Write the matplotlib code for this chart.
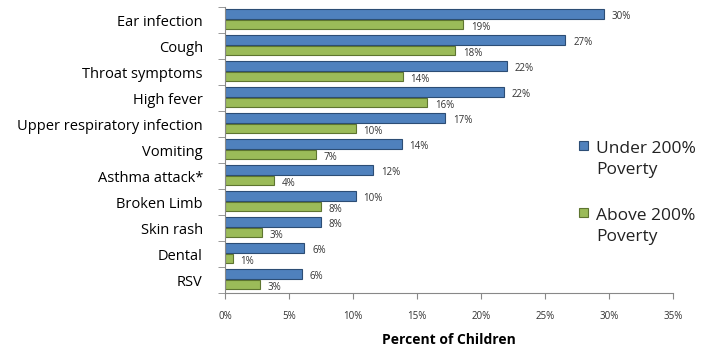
import matplotlib
matplotlib.use("Agg")
import matplotlib.pyplot as plt
import numpy as np
from matplotlib.patches import Rectangle

categories = ["Ear infection", "Cough", "Throat symptoms", "High fever",
              "Upper respiratory infection", "Vomiting", "Asthma attack*",
              "Broken Limb", "Skin rash", "Dental", "RSV"]
under_200 = [29.6, 26.6, 22.0, 21.8, 17.2, 13.8, 11.6, 10.2, 7.5, 6.2, 6.0]
above_200 = [18.6, 18.0, 13.9, 15.8, 10.2, 7.1, 3.8, 7.5, 2.9, 0.6, 2.7]
xticks = [0, 5, 10, 15, 20, 25, 30, 35]
series_labels = ["Under 200%\nPoverty", "Above 200%\nPoverty"]

plt.rcParams['font.family'] = ['Open Sans', 'DejaVu Sans']

W, H = 715, 353
fig = plt.figure(figsize=(W/100, H/100), dpi=100)
ax = fig.add_axes([225/W, 1-293/H, (673-225)/W, (293-7)/H])

n = len(categories)
y = np.arange(n)
h = 0.36
blue, blue_e = "#4F81BD", "#2C4D75"
green, green_e = "#9BBB59", "#5E7530"
off_b, off_g = -0.23, 0.18

ax.barh(y + off_b, under_200, height=h, color=blue, edgecolor=blue_e, linewidth=0.8)
ax.barh(y + off_g, above_200, height=h, color=green, edgecolor=green_e, linewidth=0.8)

for yi, v in zip(y, under_200):
    ax.text(v + 0.6, yi + off_b + 0.11, f"{v:.0f}%", fontsize=7, va="center", ha="left", color="#333333")
for yi, v in zip(y, above_200):
    ax.text(v + 0.6, yi + off_g + 0.11, f"{v:.0f}%", fontsize=7, va="center", ha="left", color="#333333")

ax.set_ylim(n - 0.5, -0.5)
ax.set_xlim(0, 35)
ax.set_yticks(y)
ax.set_yticklabels(categories, fontsize=10.5)
ax.set_yticks(np.arange(-0.5, n, 1), minor=True)
ax.tick_params(axis="y", which="major", length=0, pad=16)
ax.tick_params(axis="y", which="minor", length=5, color="#888888")
ax.set_xticks(xticks)
ax.set_xticklabels([f"{t}%" for t in xticks], fontsize=7, color="#333333")
ax.tick_params(axis="x", length=4, color="#888888", pad=9)
for s in ["top", "right"]:
    ax.spines[s].set_visible(False)
for s in ["left", "bottom"]:
    ax.spines[s].set_color("#888888")
ax.set_xlabel("Percent of Children", fontsize=10, fontweight="bold", labelpad=8)

# legend drawn manually to match the stacked two-line layout
leg_items = [(blue, blue_e, 138, series_labels[0]), (green, green_e, 205, series_labels[1])]
for fc, ec, ytop, lab in leg_items:
    fig.patches.append(Rectangle((579/W, 1-(ytop+12)/H), 9/W, 9/H, transform=fig.transFigure,
                                 facecolor=fc, edgecolor=ec, linewidth=0.8))
    fig.text(596/W, 1-(ytop+3)/H, lab, fontsize=12.5, va="top", ha="left",
             linespacing=1.45, color="#222222")

fig.savefig("out.png", dpi=100)
